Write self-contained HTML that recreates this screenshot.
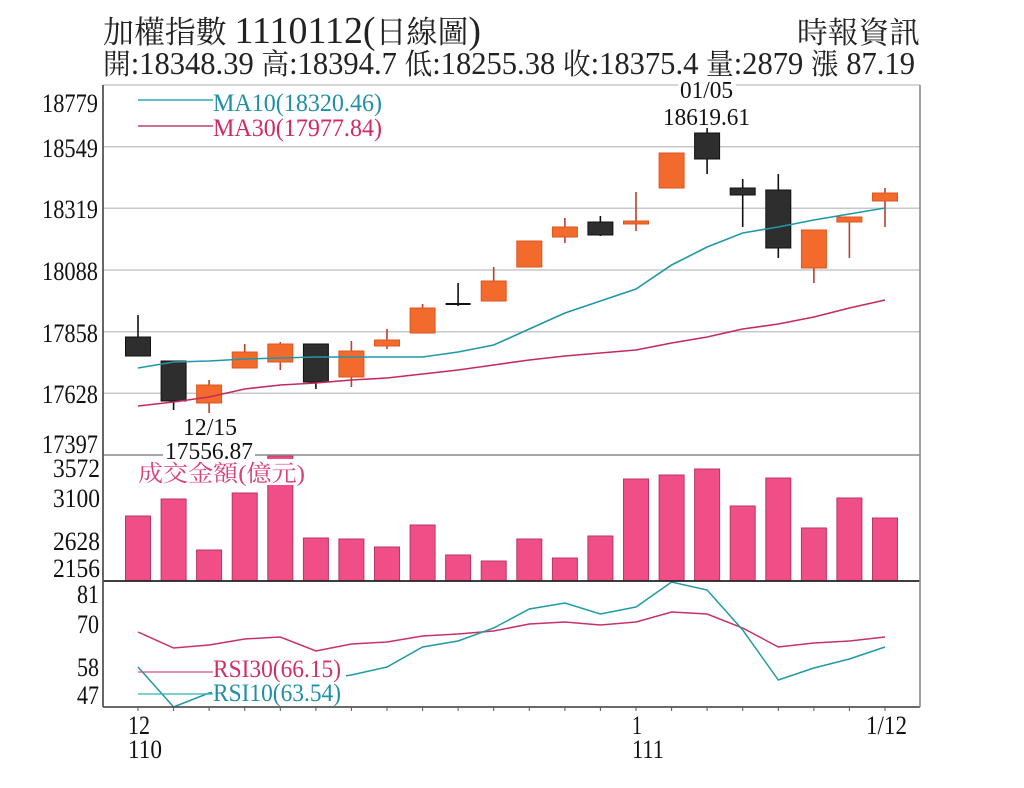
<!DOCTYPE html>
<html><head><meta charset="utf-8"><style>
html,body{margin:0;padding:0;background:#fff;}
svg{display:block;}
text{font-family:"Liberation Serif","Noto Serif CJK SC","Noto Sans CJK TC",serif;}
</style></head><body>
<svg width="1024" height="788" viewBox="0 0 1024 788" xmlns="http://www.w3.org/2000/svg">
<rect width="1024" height="788" fill="#fff"/>
<!-- Titles -->
<text x="103" y="43" fill="#222" textLength="378" lengthAdjust="spacingAndGlyphs"><tspan font-size="31">加權指數 </tspan><tspan font-size="38">1110112(</tspan><tspan font-size="31">日線圖</tspan><tspan font-size="38">)</tspan></text>
<text x="797" y="43" font-size="30" fill="#222" textLength="123" lengthAdjust="spacingAndGlyphs">時報資訊</text>
<text x="103" y="74" fill="#222" textLength="812" lengthAdjust="spacingAndGlyphs"><tspan font-size="29">開</tspan><tspan font-size="32">:18348.39 </tspan><tspan font-size="29">高</tspan><tspan font-size="32">:18394.7 </tspan><tspan font-size="29">低</tspan><tspan font-size="32">:18255.38 </tspan><tspan font-size="29">收</tspan><tspan font-size="32">:18375.4 </tspan><tspan font-size="29">量</tspan><tspan font-size="32">:2879 </tspan><tspan font-size="29">漲</tspan><tspan font-size="32"> 87.19</tspan></text>

<!-- Grid lines -->
<g stroke="#c8c8c8" stroke-width="1.5">
<line x1="103" y1="85" x2="920" y2="85"/>
<line x1="103" y1="146.7" x2="920" y2="146.7"/>
<line x1="103" y1="208.3" x2="920" y2="208.3"/>
<line x1="103" y1="270" x2="920" y2="270"/>
<line x1="103" y1="331.7" x2="920" y2="331.7"/>
<line x1="103" y1="393.3" x2="920" y2="393.3"/>
</g>

<!-- Volume bars -->
<g fill="#ef4f86" stroke="#b8346a" stroke-width="1">
<rect x="125.5" y="516" width="25" height="65"/>
<rect x="161.1" y="499" width="25" height="82"/>
<rect x="196.6" y="550" width="25" height="31"/>
<rect x="232.2" y="493" width="25" height="88"/>
<rect x="267.8" y="456" width="25" height="125"/>
<rect x="303.4" y="538" width="25" height="43"/>
<rect x="338.9" y="539" width="25" height="42"/>
<rect x="374.5" y="547" width="25" height="34"/>
<rect x="410.1" y="525" width="25" height="56"/>
<rect x="445.6" y="555" width="25" height="26"/>
<rect x="481.2" y="561" width="25" height="20"/>
<rect x="516.8" y="539" width="25" height="42"/>
<rect x="552.4" y="558" width="25" height="23"/>
<rect x="587.9" y="536" width="25" height="45"/>
<rect x="623.5" y="479" width="25" height="102"/>
<rect x="659.1" y="475" width="25" height="106"/>
<rect x="694.6" y="469" width="25" height="112"/>
<rect x="730.2" y="506" width="25" height="75"/>
<rect x="765.8" y="478" width="25" height="103"/>
<rect x="801.4" y="528" width="25" height="53"/>
<rect x="836.9" y="498" width="25" height="83"/>
<rect x="872.5" y="518" width="25" height="63"/>
</g>

<!-- Candle wicks -->
<g stroke="#111" stroke-width="1.6">
<line x1="138" y1="315" x2="138" y2="337"/>
<line x1="173.6" y1="361" x2="173.6" y2="410"/>
<line x1="315.9" y1="344" x2="315.9" y2="389"/>
<line x1="458.1" y1="283" x2="458.1" y2="306"/>
<line x1="600.4" y1="216" x2="600.4" y2="236"/>
<line x1="707.1" y1="128" x2="707.1" y2="174"/>
<line x1="742.7" y1="179" x2="742.7" y2="227"/>
<line x1="778.3" y1="174" x2="778.3" y2="258"/>
</g>
<g stroke="#b8402e" stroke-width="1.6">
<line x1="209.1" y1="380" x2="209.1" y2="413"/>
<line x1="244.7" y1="344" x2="244.7" y2="352"/>
<line x1="280.3" y1="342" x2="280.3" y2="370"/>
<line x1="351.4" y1="341" x2="351.4" y2="387"/>
<line x1="387" y1="329" x2="387" y2="349"/>
<line x1="422.6" y1="304" x2="422.6" y2="308"/>
<line x1="493.7" y1="267" x2="493.7" y2="281"/>
<line x1="564.9" y1="218" x2="564.9" y2="243"/>
<line x1="636" y1="192" x2="636" y2="231"/>
<line x1="813.9" y1="268" x2="813.9" y2="283"/>
<line x1="849.4" y1="217" x2="849.4" y2="258"/>
<line x1="885" y1="188" x2="885" y2="227"/>
</g>
<!-- Dark bodies -->
<g fill="#2e2e2e" stroke="#111" stroke-width="1">
<rect x="125.5" y="337" width="25" height="19"/>
<rect x="161.1" y="361" width="25" height="40"/>
<rect x="303.4" y="344" width="25" height="38"/>
<rect x="587.9" y="222" width="25" height="13"/>
<rect x="694.6" y="133" width="25" height="26"/>
<rect x="730.2" y="188" width="25" height="7"/>
<rect x="765.8" y="190" width="25" height="58"/>
</g>
<line x1="445.6" y1="304" x2="470.6" y2="304" stroke="#111" stroke-width="2"/>
<!-- Orange bodies -->
<g fill="#f26a2c" stroke="#dc5620" stroke-width="1">
<rect x="196.6" y="385" width="25" height="18"/>
<rect x="232.2" y="352" width="25" height="16"/>
<rect x="267.8" y="344" width="25" height="18"/>
<rect x="338.9" y="351" width="25" height="26"/>
<rect x="374.5" y="340" width="25" height="6"/>
<rect x="410.1" y="308" width="25" height="25"/>
<rect x="481.2" y="281" width="25" height="20"/>
<rect x="516.8" y="241" width="25" height="26"/>
<rect x="552.4" y="227" width="25" height="10"/>
<rect x="623.5" y="221" width="25" height="3"/>
<rect x="659.1" y="153" width="25" height="35"/>
<rect x="801.4" y="230" width="25" height="38"/>
<rect x="836.9" y="217" width="25" height="5"/>
<rect x="872.5" y="193" width="25" height="8"/>
</g>

<!-- MA lines -->
<polyline fill="none" stroke="#2097a8" stroke-width="1.6" points="138,368 173.6,362 209.1,361 244.7,359 280.3,358 315.9,357 351.4,357 387,357 422.6,357 458.1,352 493.7,345 529.3,329 564.9,313 600.4,301 636,289 671.6,265 707.1,247 742.7,233 778.3,227 813.9,220 849.4,214 885,208"/>
<polyline fill="none" stroke="#c42a5c" stroke-width="1.6" points="138,406 173.6,402 209.1,397 244.7,389 280.3,385 315.9,383 351.4,380 387,378 422.6,374 458.1,370 493.7,365 529.3,360 564.9,356 600.4,353 636,350 671.6,343 707.1,337 742.7,329 778.3,324 813.9,317 849.4,308 885,300"/>

<!-- RSI lines -->
<polyline fill="none" stroke="#c8306a" stroke-width="1.5" points="138,632 173.6,648 209.1,645 244.7,639 280.3,637 315.9,651 351.4,644 387,642 422.6,636 458.1,634 493.7,631 529.3,624 564.9,622 600.4,625 636,622 671.6,612 707.1,614 742.7,628 778.3,647 813.9,643 849.4,641 885,637"/>
<polyline fill="none" stroke="#1f9aa5" stroke-width="1.5" points="138,667 173.6,707 209.1,693 244.7,688 280.3,684 315.9,680 351.4,675 387,667 422.6,647 458.1,641 493.7,628 529.3,609 564.9,603 600.4,614 636,607 671.6,582 707.1,590 742.7,630 778.3,680 813.9,668 849.4,659 885,647"/>

<!-- Axes / frame -->
<line x1="103" y1="455" x2="920" y2="455" stroke="#8a8a8a" stroke-width="1.6"/>
<line x1="103" y1="581" x2="920" y2="581" stroke="#222" stroke-width="1.8"/>
<line x1="103" y1="707" x2="920" y2="707" stroke="#555" stroke-width="1.8"/>
<line x1="103" y1="85" x2="103" y2="707" stroke="#555" stroke-width="1.8"/>
<line x1="920" y1="85" x2="920" y2="707" stroke="#8a8a8a" stroke-width="1.6"/>
<g stroke="#555" stroke-width="1">
<line x1="138" y1="707" x2="138" y2="711"/><line x1="173.6" y1="707" x2="173.6" y2="711"/><line x1="209.1" y1="707" x2="209.1" y2="711"/><line x1="244.7" y1="707" x2="244.7" y2="711"/><line x1="280.3" y1="707" x2="280.3" y2="711"/><line x1="315.9" y1="707" x2="315.9" y2="711"/><line x1="351.4" y1="707" x2="351.4" y2="711"/><line x1="387" y1="707" x2="387" y2="711"/><line x1="422.6" y1="707" x2="422.6" y2="711"/><line x1="458.1" y1="707" x2="458.1" y2="711"/><line x1="493.7" y1="707" x2="493.7" y2="711"/><line x1="529.3" y1="707" x2="529.3" y2="711"/><line x1="564.9" y1="707" x2="564.9" y2="711"/><line x1="600.4" y1="707" x2="600.4" y2="711"/><line x1="636" y1="707" x2="636" y2="711"/><line x1="671.6" y1="707" x2="671.6" y2="711"/><line x1="707.1" y1="707" x2="707.1" y2="711"/><line x1="742.7" y1="707" x2="742.7" y2="711"/><line x1="778.3" y1="707" x2="778.3" y2="711"/><line x1="813.9" y1="707" x2="813.9" y2="711"/><line x1="849.4" y1="707" x2="849.4" y2="711"/><line x1="885" y1="707" x2="885" y2="711"/>
</g>

<!-- Y labels -->
<g font-size="26" fill="#111">
<text x="42" y="112" textLength="56" lengthAdjust="spacingAndGlyphs">18779</text>
<text x="42" y="157" textLength="56" lengthAdjust="spacingAndGlyphs">18549</text>
<text x="42" y="218" textLength="56" lengthAdjust="spacingAndGlyphs">18319</text>
<text x="42" y="280" textLength="56" lengthAdjust="spacingAndGlyphs">18088</text>
<text x="42" y="342" textLength="56" lengthAdjust="spacingAndGlyphs">17858</text>
<text x="42" y="403" textLength="56" lengthAdjust="spacingAndGlyphs">17628</text>
<text x="42" y="453" textLength="56" lengthAdjust="spacingAndGlyphs">17397</text>
<text x="53" y="477" textLength="47" lengthAdjust="spacingAndGlyphs">3572</text>
<text x="53" y="507" textLength="47" lengthAdjust="spacingAndGlyphs">3100</text>
<text x="53" y="550" textLength="47" lengthAdjust="spacingAndGlyphs">2628</text>
<text x="53" y="577" textLength="47" lengthAdjust="spacingAndGlyphs">2156</text>
<text x="77" y="603" textLength="22" lengthAdjust="spacingAndGlyphs">81</text>
<text x="77" y="633" textLength="22" lengthAdjust="spacingAndGlyphs">70</text>
<text x="77" y="676" textLength="22" lengthAdjust="spacingAndGlyphs">58</text>
<text x="77" y="704" textLength="22" lengthAdjust="spacingAndGlyphs">47</text>
<!-- X labels -->
<text x="128" y="734" textLength="22" lengthAdjust="spacingAndGlyphs">12</text>
<text x="128" y="758" textLength="34" lengthAdjust="spacingAndGlyphs">110</text>
<text x="632" y="734" textLength="10" lengthAdjust="spacingAndGlyphs">1</text>
<text x="632" y="758" textLength="32" lengthAdjust="spacingAndGlyphs">111</text>
<text x="866" y="734" textLength="41" lengthAdjust="spacingAndGlyphs">1/12</text>
</g>

<!-- MA legend -->
<line x1="138" y1="100" x2="213" y2="100" stroke="#2aa9b5" stroke-width="1.4"/>
<text x="213" y="111" font-size="25" fill="#1f8fa5" textLength="169" lengthAdjust="spacingAndGlyphs">MA10(18320.46)</text>
<line x1="138" y1="126" x2="213" y2="126" stroke="#c0406a" stroke-width="1.4"/>
<text x="213" y="136" font-size="25" fill="#d02a60" textLength="169" lengthAdjust="spacingAndGlyphs">MA30(17977.84)</text>

<!-- Annotations -->
<rect x="678" y="80" width="58" height="20" fill="#fff"/>
<text x="680" y="98" font-size="24" fill="#111" textLength="53" lengthAdjust="spacingAndGlyphs">01/05</text>
<text x="663" y="125" font-size="24" fill="#111" textLength="87" lengthAdjust="spacingAndGlyphs">18619.61</text>
<text x="183" y="435" font-size="24" fill="#111" textLength="54" lengthAdjust="spacingAndGlyphs">12/15</text>
<rect x="163" y="441" width="92" height="20" fill="#fff"/>
<text x="165" y="459" font-size="24" fill="#111" textLength="88" lengthAdjust="spacingAndGlyphs">17556.87</text>

<!-- Volume title -->
<rect x="136" y="459" width="171" height="26" fill="#fff"/>
<text x="138" y="481" font-size="23" fill="#d8407a" textLength="167" lengthAdjust="spacingAndGlyphs">成交金額(億元)</text>

<!-- RSI legend -->
<rect x="212" y="658" width="134" height="47" fill="#fff"/>
<line x1="138" y1="672" x2="213" y2="672" stroke="#d05080" stroke-width="1.3"/>
<text x="213" y="677" font-size="25" fill="#d0306a" textLength="128" lengthAdjust="spacingAndGlyphs">RSI30(66.15)</text>
<line x1="138" y1="694" x2="213" y2="694" stroke="#30b0b8" stroke-width="1.3"/>
<text x="213" y="701" font-size="25" fill="#1f8fa5" textLength="128" lengthAdjust="spacingAndGlyphs">RSI10(63.54)</text>
</svg>
</body></html>
